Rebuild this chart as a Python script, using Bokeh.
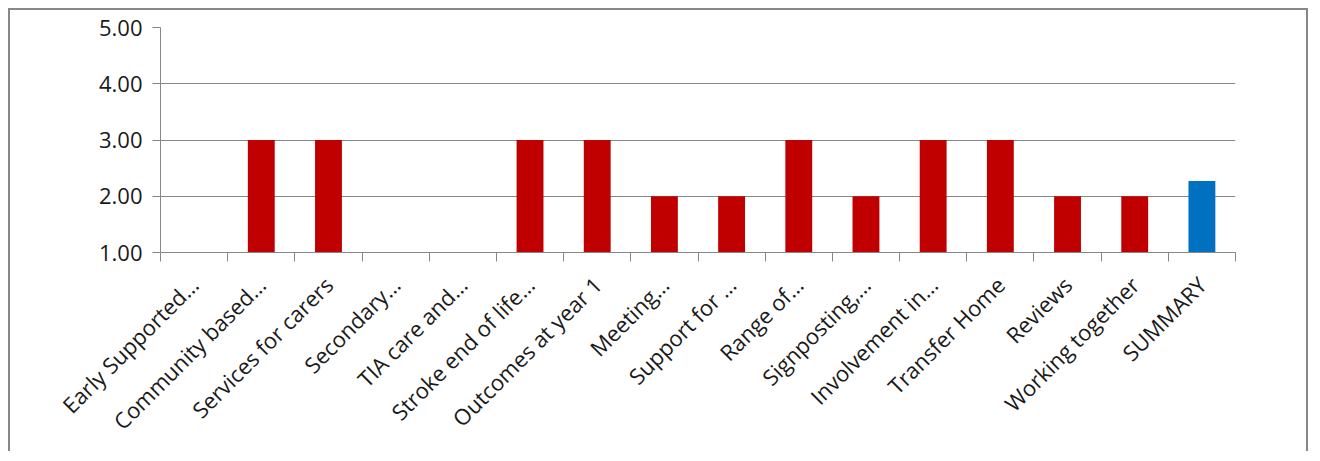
import math
from bokeh.plotting import figure
from bokeh.models import FixedTicker, NumeralTickFormatter, Range1d, ColumnDataSource
from bokeh.embed import file_html
from bokeh.resources import INLINE

categories = ["Early Supported…", "Community based…", "Services for carers", "Secondary…",
              "TIA care and…", "Stroke end of life…", "Outcomes at year 1", "Meeting…",
              "Support for …", "Range of…", "Signposting,…", "Involvement in…",
              "Transfer Home", "Reviews", "Working together", "SUMMARY"]
values = [1.0, 3.0, 3.0, 1.0, 1.0, 3.0, 3.0, 2.0, 2.0, 3.0, 2.0, 3.0, 3.0, 2.0, 2.0, 2.27]
bar_colors = ["#C00000"] * 15 + ["#0070C0"]
y_ticks = [1, 2, 3, 4, 5]

x_pos = [i + 0.5 for i in range(len(categories))]
src = ColumnDataSource(dict(x=x_pos, top=values, color=bar_colors, cat=categories))

GRAY = "#878787"
p = figure(width=1300, height=443, output_backend="svg", toolbar_location=None,
           x_range=Range1d(0, len(categories)), y_range=Range1d(1, 5),
           min_border_left=150, min_border_right=75, min_border_top=17, min_border_bottom=201)
p.styles = {"border-top": f"2px solid {GRAY}", "border-left": f"2px solid {GRAY}",
            "border-right": f"2px solid {GRAY}",
            "margin-left": "8px", "margin-top": "8px"}

p.vbar(x="x", top="top", bottom=1, width=0.4, color="color", line_color=None, source=src)

p.outline_line_color = None
p.xgrid.visible = False
p.ygrid.grid_line_color = GRAY
p.ygrid.grid_line_width = 1

ya = p.yaxis[0]
ya.ticker = FixedTicker(ticks=y_ticks)
ya.formatter = NumeralTickFormatter(format="0.00")
ya.axis_line_color = GRAY
ya.major_tick_line_color = GRAY
ya.major_tick_out = 8
ya.major_tick_in = 0
ya.minor_tick_line_color = None
ya.major_label_standoff = 10
ya.major_label_text_font = "Open Sans"
ya.major_label_text_font_size = "22px"
ya.major_label_text_color = "#1a1a1a"

xa = p.xaxis[0]
xa.ticker = FixedTicker(ticks=x_pos, minor_ticks=list(range(len(categories) + 1)))
xa.major_label_overrides = {x: c for x, c in zip(x_pos, categories)}
xa.major_label_orientation = math.pi / 4
xa.axis_line_color = GRAY
xa.major_tick_line_color = None
xa.major_tick_out = 0
xa.major_tick_in = 0
xa.minor_tick_line_color = GRAY
xa.minor_tick_out = 9
xa.minor_tick_in = 0
xa.major_label_standoff = 19
xa.major_label_text_font = "Open Sans"
xa.major_label_text_font_size = "22px"
xa.major_label_text_color = "#1a1a1a"

open("out.html", "w").write(file_html(p, INLINE))
